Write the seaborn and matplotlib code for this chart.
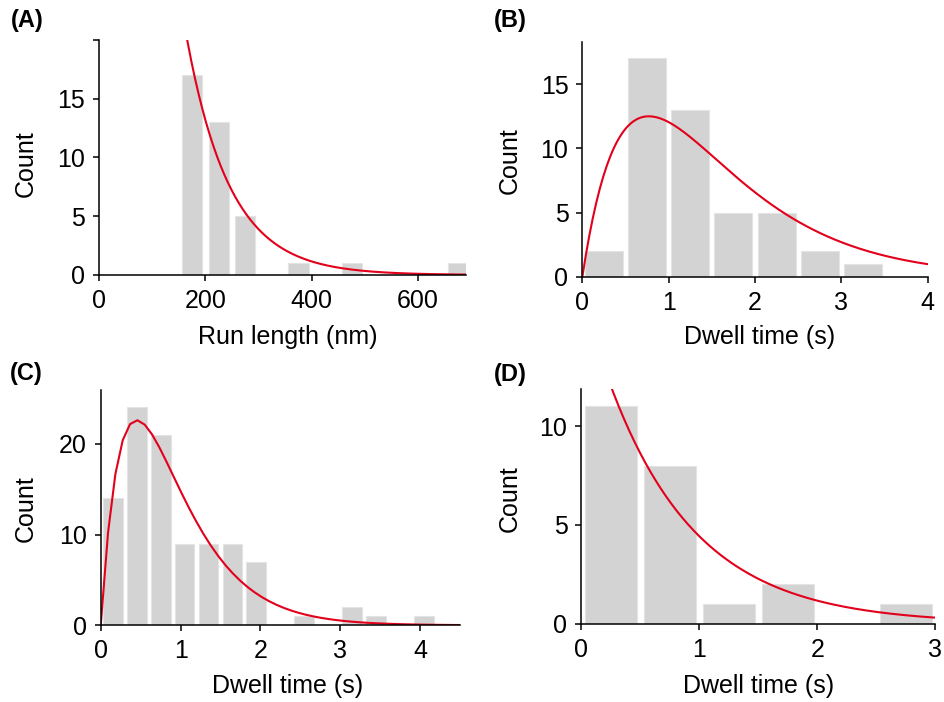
import numpy as np
import pandas as pd
import seaborn as sns
import matplotlib.pyplot as plt

# (A) run length histogram, 50 nm bins
run_edges = [150, 200, 250, 300, 350, 400, 450, 500, 550, 600, 650, 700]
run_counts = [17, 13, 5, 0, 1, 0, 1, 0, 0, 0, 1]
run_fit_amp = 151.0      # exponential fit, counts at 0 nm
run_fit_len = 82.0       # decay length (nm)

# (B) dwell time histogram, 0.5 s bins
dwell_b_edges = [0, 0.5, 1.0, 1.5, 2.0, 2.5, 3.0, 3.5]
dwell_b_counts = [2, 17, 13, 5, 5, 2, 1]
dwell_b_amp = 44.1       # gamma (k=2) fit
dwell_b_tau = 0.77

# (C) dwell time histogram, 0.3 s bins
dwell_c_edges = [0, 0.3, 0.6, 0.9, 1.2, 1.5, 1.8, 2.1, 2.4, 2.7, 3.0, 3.3, 3.6, 3.9, 4.2]
dwell_c_counts = [14, 24, 21, 9, 9, 9, 7, 0, 1, 0, 2, 1, 0, 1]
dwell_c_amp = 136.5      # gamma (k=2) fit
dwell_c_tau = 0.45

# (D) dwell time histogram, 0.5 s bins
dwell_d_edges = [0, 0.5, 1.0, 1.5, 2.0, 2.5, 3.0]
dwell_d_counts = [11, 8, 1, 2, 0, 1]
dwell_d_amp = 16.8       # exponential fit
dwell_d_tau = 0.75

BAR = "#d3d3d3"
RED = "#e3001b"

sns.set_theme(style="ticks")
plt.rcParams["font.family"] = ["Liberation Sans", "DejaVu Sans"]
plt.rcParams.update({
    "axes.linewidth": 1.1,
    "xtick.major.width": 1.1,
    "ytick.major.width": 1.1,
    "xtick.major.size": 4,
    "ytick.major.size": 4,
    "xtick.major.pad": 6,
    "ytick.major.pad": 6,
    "xtick.labelsize": 18,
    "ytick.labelsize": 18,
    "axes.labelsize": 18,
    "xtick.color": "black",
    "ytick.color": "black",
    "axes.edgecolor": "black",
    "axes.labelcolor": "black",
    "text.color": "black",
})


def hist_panel(ax, edges, counts, shrink):
    mids = [(a + b) / 2 for a, b in zip(edges[:-1], edges[1:])]
    df = pd.DataFrame({"x": mids, "n": counts})
    sns.histplot(data=df, x="x", weights="n", bins=list(edges), ax=ax,
                 color=BAR, alpha=1, edgecolor="#e4e4e4", linewidth=0.8,
                 shrink=shrink)


def fit_line(ax, xs, ys):
    sns.lineplot(x=xs, y=ys, ax=ax, color=RED, linewidth=1.5, sort=False)


def style(ax, xlabel, xlab_pos, ylab_pos):
    ax.set_xlabel(xlabel)
    ax.set_ylabel("Count")
    ax.xaxis.set_label_coords(*xlab_pos)
    ax.yaxis.set_label_coords(*ylab_pos)
    sns.despine(ax=ax)


fig = plt.figure(figsize=(9.44, 7.02), dpi=100)
axA = fig.add_axes([0.1049, 0.6083, 0.3888, 0.3348])
axB = fig.add_axes([0.6169, 0.6058, 0.3659, 0.3348])
axC = fig.add_axes([0.1067, 0.1093, 0.3806, 0.3348])
axD = fig.add_axes([0.6158, 0.1115, 0.3750, 0.3348])

# A
hist_panel(axA, run_edges, run_counts, 0.76)
xa = np.linspace(0, 690, 200)
fit_line(axA, xa, run_fit_amp * np.exp(-xa / run_fit_len))
axA.set_xlim(0, 690)
axA.set_ylim(0, 20)
axA.set_xticks([0, 200, 400, 600])
axA.set_yticks([0, 5, 10, 15, 20])
axA.set_yticklabels(["0", "5", "10", "15", ""])
style(axA, "Run length (nm)", (0.515, -0.213), (-0.166, 0.472))

# B
hist_panel(axB, dwell_b_edges, dwell_b_counts, 0.88)
xb = np.linspace(0, 4, 200)
fit_line(axB, xb, dwell_b_amp * xb * np.exp(-xb / dwell_b_tau))
axB.set_xlim(0, 4)
axB.set_ylim(0, 18.3)
axB.set_xticks([0, 1, 2, 3, 4])
axB.set_yticks([0, 5, 10, 15])
style(axB, "Dwell time (s)", (0.513, -0.2055), (-0.175, 0.493))

# C
hist_panel(axC, dwell_c_edges, dwell_c_counts, 0.83)
xc = np.linspace(0, 4.5, 50)
fit_line(axC, xc, dwell_c_amp * xc * np.exp(-xc / dwell_c_tau))
axC.set_xlim(0, 4.5)
axC.set_ylim(0, 25.9)
axC.set_xticks([0, 1, 2, 3, 4])
axC.set_yticks([0, 10, 20])
style(axC, "Dwell time (s)", (0.521, -0.2085), (-0.1745, 0.497))

# D
hist_panel(axD, dwell_d_edges, dwell_d_counts, 0.88)
xd = np.linspace(0, 3, 200)
fit_line(axD, xd, dwell_d_amp * np.exp(-xd / dwell_d_tau))
axD.set_xlim(0, 3)
axD.set_ylim(0, 11.9)
axD.set_xticks([0, 1, 2, 3])
axD.set_yticks([0, 5, 10])
style(axD, "Dwell time (s)", (0.502, -0.215), (-0.1675, 0.533))

for label, x, y in [("(A)", 11, 9), ("(B)", 494, 9), ("(C)", 10, 362), ("(D)", 494, 363)]:
    fig.text(x / 944, 1 - y / 702, label, fontsize=17, fontweight="bold",
             ha="left", va="top", color="black")

fig.savefig("out.png", dpi=100)
